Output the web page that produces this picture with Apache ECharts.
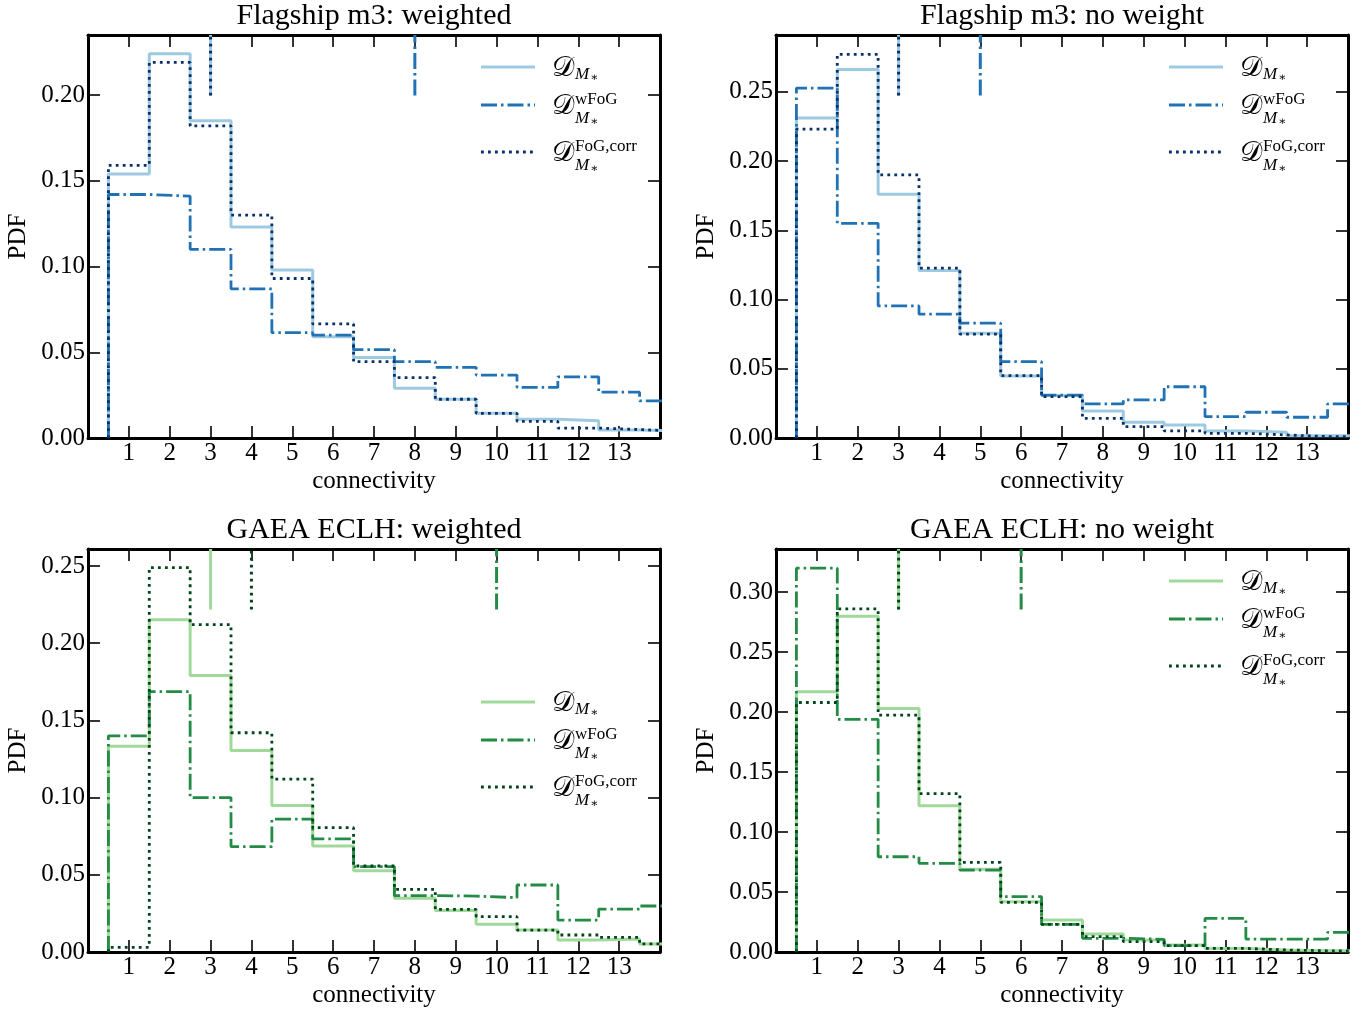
<!DOCTYPE html>
<html>
<head>
<meta charset="utf-8">
<script src="https://cdn.jsdelivr.net/npm/echarts@6/dist/echarts.min.js"></script>
<style>
html,body{margin:0;padding:0;background:#fff;}
#chart{width:1368px;height:1016px;}
</style>
</head>
<body>
<div id="chart"></div>
<script>
// ---------------- data ----------------
const bins = [1,2,3,4,5,6,7,8,9,10,11,12,13,14];
const xTickLabels = [1,2,3,4,5,6,7,8,9,10,11,12,13];
const titles = ['Flagship m3: weighted','Flagship m3: no weight','GAEA ECLH: weighted','GAEA ECLH: no weight'];

// Flagship m3, weighted
const fsW_Dm   = [0.154,0.224,0.185,0.123,0.098,0.059,0.047,0.029,0.0226,0.0145,0.011,0.0100,0.0047,0.004];
const fsW_wFoG = [0.142,0.141,0.110,0.087,0.0614,0.060,0.0515,0.0445,0.0412,0.0367,0.0295,0.0357,0.0267,0.0216];
const fsW_corr = [0.159,0.219,0.182,0.130,0.093,0.0665,0.0445,0.0352,0.0226,0.0144,0.0097,0.0058,0.0049,0.004];
// Flagship m3, no weight
const fsN_Dm   = [0.231,0.266,0.176,0.121,0.0757,0.0448,0.0306,0.0195,0.0113,0.0094,0.0051,0.0041,0.0017,0.0017];
const fsN_wFoG = [0.2527,0.155,0.0954,0.0894,0.0829,0.0551,0.031,0.0246,0.0275,0.037,0.0154,0.0186,0.015,0.0246];
const fsN_corr = [0.223,0.277,0.190,0.1226,0.075,0.045,0.0299,0.0142,0.0082,0.0051,0.0034,0.0022,0.001,0.001];
// GAEA ECLH, weighted
const gW_Dm   = [0.1332,0.2152,0.179,0.1305,0.0948,0.0687,0.0526,0.0348,0.0268,0.0179,0.0142,0.0078,0.0084,0.0052];
const gW_wFoG = [0.140,0.1686,0.100,0.0682,0.086,0.0732,0.0553,0.0365,0.0362,0.0352,0.0434,0.0207,0.0278,0.0298];
const gW_corr = [0.003,0.249,0.212,0.142,0.112,0.0805,0.0557,0.0406,0.0276,0.0229,0.0142,0.011,0.0095,0.0052];
// GAEA ECLH, no weight
const gN_Dm   = [0.2169,0.280,0.203,0.122,0.0689,0.0419,0.0267,0.015,0.010,0.0058,0.003,0.0017,0.0011,0.0011];
const gN_wFoG = [0.320,0.194,0.0794,0.0739,0.0683,0.0461,0.0231,0.0114,0.0106,0.0053,0.028,0.0108,0.0108,0.0164];
const gN_corr = [0.208,0.286,0.1975,0.132,0.0747,0.0414,0.0231,0.0128,0.0086,0.0053,0.003,0.0017,0.001,0.001];

// median markers (connectivity) for [D, wFoG, FoG-corr]
const fsW_med = [3, 8, 3];
const fsN_med = [3, 5, 3];
const gW_med  = [3, 10, 4];
const gN_med  = [3, 6, 3];

const yMaxes = [0.235, 0.291, 0.261, 0.336];

// ---------------- styling ----------------
const FONT = "'Liberation Serif','DejaVu Serif',serif";
const blues  = ['#9ecae1', '#2171b5', '#08306b'];
const greens = ['#a1d99b', '#238b45', '#00441b'];
const dashes = ['solid', [16, 4, 2.5, 4], [2.8, 4.2]];
const names = ['D', 'wFoG', 'FoG,corr'];

const panels = [
  {series:[fsW_Dm, fsW_wFoG, fsW_corr], med: fsW_med, colors: blues,  grid:{left:88, top:35},  legend:{x:481, y:67}},
  {series:[fsN_Dm, fsN_wFoG, fsN_corr], med: fsN_med, colors: blues,  grid:{left:776, top:35}, legend:{x:1169, y:67}},
  {series:[gW_Dm, gW_wFoG, gW_corr],    med: gW_med,  colors: greens, grid:{left:88, top:549}, legend:{x:481, y:702}},
  {series:[gN_Dm, gN_wFoG, gN_corr],    med: gN_med,  colors: greens, grid:{left:776, top:549}, legend:{x:1169, y:581}}
];
const GW = 572, GH = 403;

function stepData(vals) {
  const pts = [[bins[0] - 0.5, 0]];
  vals.forEach((v, i) => pts.push([bins[i] + 0.5, v]));
  return pts;
}

const grids = [], xAxes = [], yAxes = [], series = [], graphics = [];
const axisLineStyle = {color:'#000', width:3};
const tickStyle = {color:'#000', width:1.6};
const isMult = (v, s) => Math.abs(v / s - Math.round(v / s)) < 1e-6;

panels.forEach((p, i) => {
  grids.push({left:p.grid.left, top:p.grid.top, width:GW, height:GH});
  // bottom x axis
  xAxes.push({
    gridIndex:i, type:'value', min:0, max:14, interval:1, position:'bottom',
    axisLine:{show:true, onZero:false, lineStyle:axisLineStyle},
    axisTick:{show:true, inside:true, length:12, lineStyle:tickStyle},
    axisLabel:{show:true, margin:3, color:'#000', fontFamily:FONT, fontSize:25,
      formatter:v => xTickLabels.includes(v) ? String(v) : ''},
    splitLine:{show:false},
    name:'connectivity', nameLocation:'middle', nameGap:31,
    nameTextStyle:{color:'#000', fontFamily:FONT, fontSize:25}
  });
  // top mirror x axis
  xAxes.push({
    gridIndex:i, type:'value', min:0, max:14, interval:1, position:'top',
    axisLine:{show:true, onZero:false, lineStyle:axisLineStyle},
    axisTick:{show:true, inside:true, length:12, lineStyle:tickStyle},
    axisLabel:{show:false}, splitLine:{show:false}
  });
  // left y axis
  yAxes.push({
    gridIndex:i, type:'value', min:0, max:yMaxes[i], interval:0.05, position:'left',
    axisLine:{show:true, onZero:false, lineStyle:axisLineStyle},
    axisTick:{show:true, inside:true, length:12, lineStyle:tickStyle},
    axisLabel:{show:true, margin:3, color:'#000', fontFamily:FONT, fontSize:25, showMaxLabel:false,
      formatter:v => isMult(v, 0.05) ? v.toFixed(2) : ''},
    splitLine:{show:false},
    name:'PDF', nameLocation:'middle', nameGap:57, nameRotate:90,
    nameTextStyle:{color:'#000', fontFamily:FONT, fontSize:25}
  });
  // right mirror y axis
  yAxes.push({
    gridIndex:i, type:'value', min:0, max:yMaxes[i], interval:0.05, position:'right',
    axisLine:{show:true, onZero:false, lineStyle:axisLineStyle},
    axisTick:{show:true, inside:true, length:12, lineStyle:tickStyle},
    axisLabel:{show:false}, splitLine:{show:false}
  });

  p.series.forEach((vals, k) => {
    series.push({
      name: titles[i] + ' ' + names[k], type:'line', xAxisIndex:2*i, yAxisIndex:2*i,
      data: stepData(vals), step:'start', showSymbol:false, symbol:'none', clip:true,
      lineStyle:{color:p.colors[k], width: k === 0 ? 3 : 2.8, type:dashes[k], cap:'butt'},
      z: 2 + k, silent:true, animation:false
    });
  });
  p.med.forEach((m, k) => {
    series.push({
      name: titles[i] + ' median ' + names[k], type:'line', xAxisIndex:2*i, yAxisIndex:2*i,
      data: [[m, yMaxes[i] * 0.85], [m, yMaxes[i]]], showSymbol:false, symbol:'none',
      lineStyle:{color:p.colors[k], width: 3, type:dashes[k], cap:'butt'},
      z: 2 + k, silent:true, animation:false
    });
  });

  // title
  graphics.push({type:'text', x:p.grid.left + GW/2, y:p.grid.top - 19,
    style:{text:titles[i], fill:'#000', font:"30px " + FONT, textAlign:'center', textVerticalAlign:'middle'}});

  // legend
  const rowOff = [0, 38, 85];
  const lx = p.legend.x, ly = p.legend.y;
  for (let k = 0; k < 3; k++) {
    const ry = ly + rowOff[k];
    const ls = {stroke:p.colors[k], lineWidth:3};
    if (k > 0) ls.lineDash = dashes[k];
    graphics.push({type:'line', shape:{x1:lx, y1:ry, x2:lx + 54, y2:ry}, style:ls});
    graphics.push({type:'text', x:lx + 71, y:ry + 2,
      style:{text:'𝒟', fill:'#000', font:"28px " + FONT, textVerticalAlign:'middle'}});
    const subY = k === 0 ? ry + 8 : ry + 14;
    graphics.push({type:'text', x:lx + 94, y:subY,
      style:{text:'M', fill:'#000', font:"italic 17px " + FONT, textVerticalAlign:'middle'}});
    graphics.push({type:'text', x:lx + 109, y:subY + 3,
      style:{text:'∗', fill:'#000', font:"12px " + FONT, textVerticalAlign:'middle'}});
    if (k > 0) {
      graphics.push({type:'text', x:lx + 94, y:ry - 5,
        style:{text:names[k], fill:'#000', font:"17px " + FONT, textVerticalAlign:'middle'}});
    }
  }
});

const chart = echarts.init(document.getElementById('chart'), null, {renderer:'canvas'});
chart.setOption({
  backgroundColor:'#fff',
  animation:false,
  grid:grids, xAxis:xAxes, yAxis:yAxes, series:series,
  graphic:graphics
});
</script>
</body>
</html>
